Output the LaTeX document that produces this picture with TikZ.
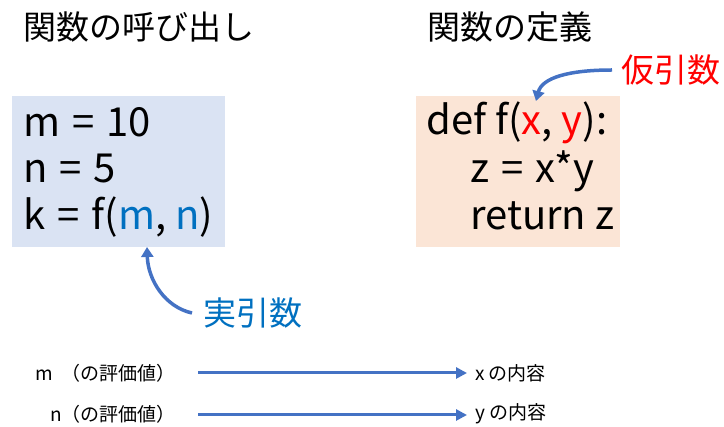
\documentclass[tikz,border=0pt]{standalone}
\usepackage{fontspec}
\setmainfont{Noto Sans CJK JP}
\usetikzlibrary{arrows.meta}
\definecolor{boxblue}{HTML}{DAE3F3}
\definecolor{boxorange}{HTML}{FBE5D6}
\definecolor{argblue}{HTML}{0070C0}
\definecolor{arrblue}{HTML}{4472C4}
\definecolor{pred}{HTML}{FF0000}
\tikzset{
  title/.style={font=\fontsize{33}{36}\selectfont, anchor=base west, inner sep=0pt},
  code/.style={font=\fontsize{40}{44}\selectfont, anchor=base west, inner sep=0pt},
  lab/.style={font=\fontsize{33}{36}\selectfont, inner sep=0pt},
  small/.style={font=\fontsize{19}{21}\selectfont, inner sep=0pt},
  conn/.style={draw=arrblue, line width=3pt, -{Triangle[length=11pt,width=11pt]}},
  curv/.style={draw=arrblue, line width=3.5pt, -{Triangle[length=10pt,width=12pt]}},
}
\begin{document}
\begin{tikzpicture}[x=1pt,y=-1pt]
\useasboundingbox (0,0) rectangle (724,427);
% titles
\node[title] (t1) at (23,40) {関数の呼び出し};
\node[title] (t2) at (427,40) {関数の定義};
% boxes
\fill[boxblue] (12,96) rectangle (225,247);
\fill[boxorange] (416,96) rectangle (620,247);
% call code
\node[code] (c1) at (23,137) {m\hspace{0.3em}=\hspace{0.3em}10};
\node[code] (c2) at (23,183) {n\hspace{0.3em}=\hspace{0.3em}5};
\node[code] (c3) at (23,230) {k\hspace{0.3em}=\hspace{0.3em}f(\textcolor{argblue}{m}, \textcolor{argblue}{n})};
% definition code
\node[code] (d1) at (426,135) {def f(\textcolor{pred}{x}, \textcolor{pred}{y}):};
\node[code] (d2) at (470,183) {z\hspace{0.3em}=\hspace{0.3em}x*y};
\node[code] (d3) at (470,230) {return z};
% labels
\node[lab, text=pred, anchor=west] (kari) at (621,70) {仮引数};
\node[lab, text=argblue, anchor=west] (jitsu) at (203,313) {実引数};
\coordinate (karitip) at (536,101);
\coordinate (jitsutip) at (147,247);
\draw[curv] (kari.west) ++(-9,0) coordinate (ks) (ks) .. controls (568,70) and (542,78) .. (karitip);
\draw[curv] (jitsu.west) ++(-11,0) coordinate (js) (js) .. controls (165,307) and (148,280) .. (jitsutip);
% bottom
\node[small, anchor=east] (lm) at (176,373) {m\ \ （の評価値）};
\node[small, anchor=east] (ln) at (176,414) {n（の評価値）};
\node[small, anchor=west] (rx) at (475,373) {x\ の内容};
\node[small, anchor=west] (ry) at (475,414) {y\ の内容};
\draw[conn] ([xshift=22pt]lm.east) -- ([xshift=-8pt]rx.west);
\draw[conn] ([xshift=22pt]ln.east |- 0,415) -- ([xshift=-8pt]ry.west |- 0,415);
\end{tikzpicture}
\end{document}
